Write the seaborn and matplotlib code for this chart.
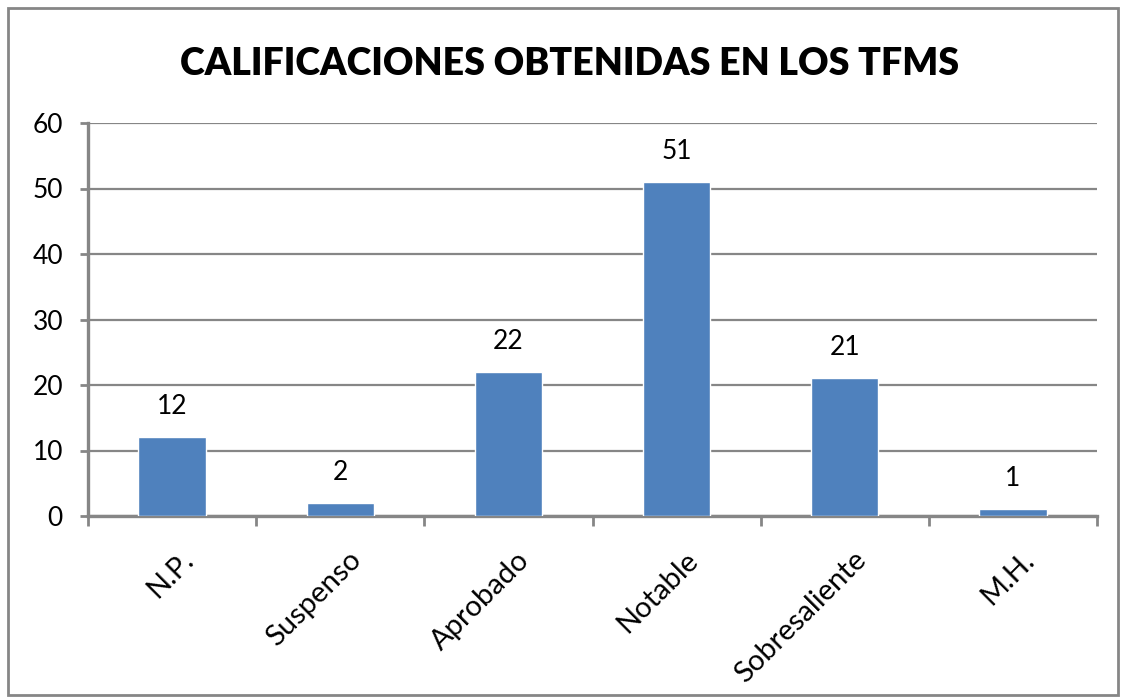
import matplotlib
matplotlib.use("Agg")
import matplotlib.pyplot as plt
import matplotlib.transforms as mtrans
from matplotlib.patches import Rectangle
import seaborn as sns
import pandas as pd

# chart data
categorias = ["N.P.", "Suspenso", "Aprobado", "Notable", "Sobresaliente", "M.H."]
valores = [12, 2, 22, 51, 21, 1]
y_ticks = [0, 10, 20, 30, 40, 50, 60]
titulo = "CALIFICACIONES OBTENIDAS EN LOS TFMS"

sns.set_style("white")
plt.rcParams['font.family'] = ['Lato', 'DejaVu Sans']
plt.rcParams['text.color'] = 'black'

df = pd.DataFrame({"categoria": categorias, "valor": valores})

fig = plt.figure(figsize=(11.21, 6.99), dpi=100)
ax = fig.add_axes([88 / 1121, 1 - 516 / 699, (1097 - 88) / 1121, (516 - 123) / 699])

sns.barplot(data=df, x="categoria", y="valor", color="#4F81BD", width=0.4,
            saturation=1, ax=ax, zorder=3)

gris = "#868686"
ax.set_ylim(0, 60)
ax.set_xlim(-0.5, len(categorias) - 0.5)
ax.set_yticks(y_ticks)
ax.yaxis.grid(True, color=gris, lw=1.6, zorder=0)
ax.set_axisbelow(True)
for s in ["top", "right"]:
    ax.spines[s].set_visible(False)
for s in ["left", "bottom"]:
    ax.spines[s].set_color(gris)
    ax.spines[s].set_linewidth(2.4)

ax.tick_params(axis="y", length=6, width=2, color=gris, labelsize=19,
               labelcolor="black", pad=12, left=True)
ax.set_xticks(range(len(categorias)))
ax.set_xticks([i - 0.5 for i in range(len(categorias) + 1)], minor=True)
ax.tick_params(axis="x", which="major", length=0, pad=22, labelcolor="black")
ax.tick_params(axis="x", which="minor", length=7, width=2, color=gris, bottom=True)
ax.set_xticklabels(categorias, rotation=45, ha="right", rotation_mode="anchor", fontsize=21)
offset = mtrans.ScaledTranslation(8 / 100, 0, fig.dpi_scale_trans)
for lab in ax.get_xticklabels():
    lab.set_transform(lab.get_transform() + offset)

ax.set_xlabel("")
ax.set_ylabel("")

for i, v in enumerate(valores):
    ax.annotate(str(v), (i, v), xytext=(0, 13), textcoords="offset points",
                ha="center", va="bottom", fontsize=19, color="black")

fig.text(570 / 1121, 1 - 64 / 699, titulo, ha="center", va="center",
         fontsize=27, fontweight="heavy", color="black")

fig.patches.append(Rectangle((8 / 1121, 4 / 699), 1110 / 1121, 687 / 699,
                             transform=fig.transFigure, fill=False,
                             edgecolor=gris, lw=2))

fig.savefig("out.png", dpi=100)
